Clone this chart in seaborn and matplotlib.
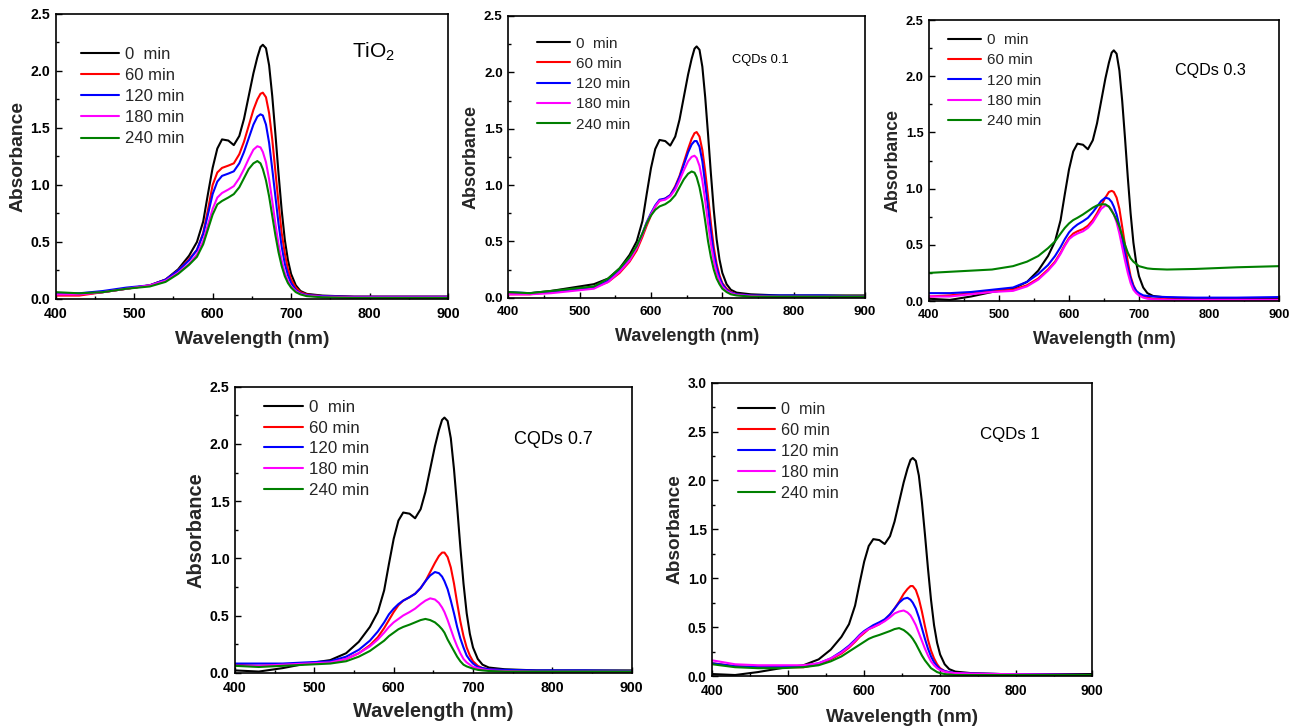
import matplotlib
matplotlib.use("Agg")
import matplotlib.pyplot as plt
import pandas as pd
import seaborn as sns
from matplotlib.lines import Line2D

# ---------------- data ----------------
WAVELENGTH = [400, 430, 460, 490, 520, 540, 556, 570, 580, 588, 594, 600, 606, 612, 620,
              627, 634, 640, 646, 652, 657, 661, 664, 668, 672, 676, 680, 684, 688, 692,
              696, 700, 706, 712, 720, 740, 780, 840, 900]
TIMES = ["0  min", "60 min", "120 min", "180 min", "240 min"]
COLORS = ["#000000", "#ff0000", "#0000ff", "#ff00ff", "#008000"]

# 0 min spectrum (same dye solution in all panels)
ABS_0MIN_A = [0.04, 0.04, 0.06, 0.09, 0.12, 0.17, 0.26, 0.38, 0.50, 0.68, 0.92, 1.15, 1.32, 1.40, 1.39,
              1.35, 1.43, 1.58, 1.78, 1.98, 2.12, 2.21, 2.23, 2.20, 2.05, 1.78, 1.45, 1.10, 0.78, 0.52,
              0.34, 0.22, 0.12, 0.07, 0.045, 0.03, 0.02, 0.02, 0.02]
ABS_0MIN_B = [0.02, 0.01, 0.04, 0.08, 0.11, 0.17, 0.27, 0.40, 0.53, 0.72, 0.95, 1.17, 1.33, 1.40, 1.39,
              1.35, 1.43, 1.58, 1.78, 1.98, 2.12, 2.21, 2.23, 2.20, 2.05, 1.78, 1.45, 1.10, 0.78, 0.52,
              0.34, 0.22, 0.12, 0.07, 0.045, 0.03, 0.02, 0.02, 0.02]

# TiO2
TIO2_60 = [0.03, 0.03, 0.06, 0.09, 0.12, 0.17, 0.25, 0.35, 0.43, 0.58, 0.78, 1.00, 1.11, 1.15, 1.17,
           1.19, 1.27, 1.38, 1.52, 1.66, 1.75, 1.80, 1.81, 1.77, 1.63, 1.40, 1.12, 0.84, 0.58, 0.40,
           0.26, 0.17, 0.10, 0.06, 0.04, 0.025, 0.02, 0.02, 0.02]
TIO2_120 = [0.05, 0.05, 0.07, 0.10, 0.12, 0.17, 0.25, 0.34, 0.43, 0.57, 0.74, 0.92, 1.03, 1.08, 1.10,
            1.12, 1.19, 1.29, 1.41, 1.53, 1.60, 1.62, 1.61, 1.53, 1.37, 1.14, 0.90, 0.66, 0.46, 0.31,
            0.21, 0.14, 0.08, 0.05, 0.035, 0.025, 0.02, 0.02, 0.02]
TIO2_180 = [0.04, 0.04, 0.06, 0.09, 0.12, 0.16, 0.23, 0.31, 0.39, 0.51, 0.65, 0.79, 0.89, 0.93, 0.96,
            0.99, 1.06, 1.14, 1.23, 1.31, 1.34, 1.33, 1.29, 1.20, 1.05, 0.86, 0.66, 0.48, 0.34, 0.23,
            0.16, 0.11, 0.07, 0.045, 0.03, 0.02, 0.015, 0.015, 0.015]
TIO2_240 = [0.06, 0.05, 0.06, 0.09, 0.11, 0.15, 0.22, 0.30, 0.37, 0.48, 0.61, 0.74, 0.83, 0.86, 0.89,
            0.92, 0.98, 1.06, 1.14, 1.19, 1.21, 1.19, 1.14, 1.04, 0.90, 0.73, 0.56, 0.41, 0.29, 0.20,
            0.14, 0.10, 0.06, 0.04, 0.025, 0.015, 0.01, 0.01, 0.01]

# CQDs 0.1
C01_60 = [0.03, 0.03, 0.05, 0.07, 0.09, 0.14, 0.22, 0.32, 0.42, 0.54, 0.64, 0.73, 0.81, 0.86, 0.88,
          0.91, 0.99, 1.08, 1.20, 1.32, 1.41, 1.46, 1.47, 1.43, 1.31, 1.12, 0.90, 0.66, 0.45, 0.30,
          0.20, 0.13, 0.08, 0.05, 0.03, 0.02, 0.01, 0.01, 0.01]
C01_120 = [0.05, 0.04, 0.05, 0.07, 0.09, 0.15, 0.24, 0.34, 0.45, 0.57, 0.67, 0.75, 0.82, 0.87, 0.88,
           0.91, 0.98, 1.07, 1.18, 1.29, 1.36, 1.39, 1.39, 1.34, 1.21, 1.01, 0.80, 0.58, 0.40, 0.27,
           0.18, 0.12, 0.07, 0.045, 0.03, 0.02, 0.02, 0.02, 0.01]
C01_180 = [0.03, 0.03, 0.04, 0.06, 0.08, 0.14, 0.23, 0.33, 0.44, 0.56, 0.66, 0.74, 0.81, 0.86, 0.87,
           0.90, 0.96, 1.04, 1.13, 1.21, 1.25, 1.26, 1.24, 1.17, 1.04, 0.86, 0.66, 0.48, 0.33, 0.22,
           0.15, 0.10, 0.06, 0.04, 0.025, 0.015, 0.01, 0.01, 0.01]
C01_240 = [0.05, 0.04, 0.06, 0.08, 0.10, 0.17, 0.26, 0.36, 0.46, 0.57, 0.66, 0.73, 0.78, 0.81, 0.83,
           0.86, 0.91, 0.98, 1.05, 1.10, 1.12, 1.11, 1.07, 0.98, 0.85, 0.68, 0.50, 0.36, 0.25, 0.17,
           0.12, 0.08, 0.05, 0.03, 0.02, 0.01, 0.01, 0.01, 0.01]

# CQDs 0.3
C03_60 = [0.04, 0.05, 0.07, 0.09, 0.10, 0.14, 0.20, 0.28, 0.35, 0.43, 0.50, 0.56, 0.60, 0.62, 0.64,
          0.67, 0.72, 0.78, 0.85, 0.92, 0.97, 0.98, 0.97, 0.92, 0.82, 0.66, 0.50, 0.35, 0.22, 0.14,
          0.09, 0.06, 0.04, 0.03, 0.02, 0.015, 0.01, 0.01, 0.01]
C03_120 = [0.07, 0.07, 0.08, 0.10, 0.12, 0.17, 0.24, 0.32, 0.40, 0.48, 0.55, 0.61, 0.65, 0.68, 0.71,
           0.74, 0.79, 0.84, 0.89, 0.92, 0.91, 0.88, 0.84, 0.77, 0.67, 0.55, 0.42, 0.30, 0.20, 0.13,
           0.09, 0.07, 0.05, 0.045, 0.04, 0.035, 0.03, 0.03, 0.035]
C03_180 = [0.04, 0.04, 0.06, 0.08, 0.09, 0.13, 0.19, 0.27, 0.34, 0.42, 0.49, 0.55, 0.58, 0.60, 0.62,
           0.65, 0.70, 0.76, 0.82, 0.85, 0.84, 0.81, 0.77, 0.70, 0.60, 0.48, 0.36, 0.25, 0.16, 0.10,
           0.07, 0.05, 0.03, 0.02, 0.015, 0.01, 0.01, 0.01, 0.01]
C03_240 = [0.25, 0.26, 0.27, 0.28, 0.31, 0.35, 0.40, 0.47, 0.53, 0.60, 0.65, 0.69, 0.72, 0.74, 0.77,
           0.80, 0.83, 0.85, 0.86, 0.86, 0.84, 0.80, 0.77, 0.72, 0.66, 0.58, 0.50, 0.43, 0.38, 0.35,
           0.33, 0.31, 0.30, 0.29, 0.285, 0.28, 0.285, 0.30, 0.31]

# CQDs 0.7
C07_60 = [0.07, 0.06, 0.07, 0.08, 0.09, 0.12, 0.17, 0.24, 0.31, 0.39, 0.46, 0.53, 0.59, 0.63, 0.66,
          0.69, 0.74, 0.80, 0.88, 0.96, 1.02, 1.05, 1.05, 1.01, 0.92, 0.78, 0.61, 0.45, 0.32, 0.22,
          0.15, 0.10, 0.06, 0.04, 0.03, 0.02, 0.015, 0.01, 0.01]
C07_120 = [0.08, 0.08, 0.08, 0.09, 0.10, 0.14, 0.20, 0.28, 0.36, 0.44, 0.51, 0.56, 0.60, 0.63, 0.66,
           0.69, 0.74, 0.80, 0.85, 0.88, 0.87, 0.84, 0.80, 0.73, 0.63, 0.52, 0.40, 0.30, 0.22, 0.15,
           0.11, 0.08, 0.05, 0.04, 0.03, 0.025, 0.02, 0.02, 0.015]
C07_180 = [0.06, 0.06, 0.07, 0.08, 0.09, 0.12, 0.17, 0.23, 0.29, 0.35, 0.40, 0.44, 0.47, 0.50, 0.53,
           0.56, 0.60, 0.63, 0.65, 0.64, 0.61, 0.57, 0.53, 0.46, 0.38, 0.30, 0.23, 0.17, 0.12, 0.09,
           0.07, 0.05, 0.04, 0.03, 0.02, 0.015, 0.01, 0.01, 0.01]
C07_240 = [0.06, 0.05, 0.06, 0.07, 0.08, 0.10, 0.14, 0.19, 0.24, 0.28, 0.32, 0.35, 0.38, 0.40, 0.42,
           0.44, 0.46, 0.47, 0.46, 0.44, 0.41, 0.38, 0.35, 0.29, 0.24, 0.19, 0.14, 0.10, 0.07, 0.055,
           0.045, 0.035, 0.025, 0.02, 0.015, 0.01, 0.01, 0.01, 0.01]

# CQDs 1
C1_60 = [0.13, 0.10, 0.09, 0.09, 0.09, 0.12, 0.17, 0.23, 0.29, 0.35, 0.40, 0.44, 0.48, 0.50, 0.53,
         0.57, 0.63, 0.69, 0.76, 0.84, 0.89, 0.92, 0.92, 0.88, 0.79, 0.66, 0.51, 0.37, 0.26, 0.18,
         0.12, 0.08, 0.05, 0.035, 0.025, 0.02, 0.015, 0.01, 0.01]
C1_120 = [0.13, 0.10, 0.09, 0.09, 0.10, 0.13, 0.18, 0.25, 0.31, 0.37, 0.42, 0.46, 0.49, 0.52, 0.55,
          0.58, 0.63, 0.69, 0.75, 0.79, 0.80, 0.78, 0.75, 0.69, 0.60, 0.49, 0.38, 0.28, 0.20, 0.14,
          0.10, 0.07, 0.05, 0.04, 0.03, 0.025, 0.02, 0.015, 0.01]
C1_180 = [0.16, 0.12, 0.11, 0.11, 0.11, 0.13, 0.18, 0.24, 0.30, 0.36, 0.41, 0.45, 0.48, 0.50, 0.53,
          0.56, 0.60, 0.64, 0.66, 0.67, 0.65, 0.62, 0.58, 0.52, 0.44, 0.36, 0.28, 0.21, 0.15, 0.11,
          0.08, 0.06, 0.045, 0.035, 0.03, 0.025, 0.02, 0.015, 0.01]
C1_240 = [0.12, 0.09, 0.08, 0.08, 0.09, 0.11, 0.15, 0.20, 0.25, 0.29, 0.32, 0.35, 0.38, 0.40, 0.42,
          0.44, 0.46, 0.48, 0.49, 0.47, 0.44, 0.41, 0.38, 0.33, 0.27, 0.21, 0.16, 0.12, 0.08, 0.06,
          0.04, 0.03, 0.02, 0.015, 0.01, 0.01, 0.01, 0.01, 0.01]

X_TICKS = [400, 500, 600, 700, 800, 900]
Y_TICKS_25 = [0.0, 0.5, 1.0, 1.5, 2.0, 2.5]
Y_TICKS_30 = [0.0, 0.5, 1.0, 1.5, 2.0, 2.5, 3.0]

PANELS = [
    dict(series=[ABS_0MIN_A, TIO2_60, TIO2_120, TIO2_180, TIO2_240], label="TiO$_2$",
         yticks=Y_TICKS_25, box=(55.7, 14, 448, 299), lab_xy=(778, 2.17),
         fs_tick=10.2, fs_lab=13.9, fs_leg=12, fs_txt=15, leg_xy=(0.064, 0.885), ls=0.37, hl=2.3,
         xpad=9),
    dict(series=[ABS_0MIN_A, C01_60, C01_120, C01_180, C01_240], label="CQDs 0.1",
         yticks=Y_TICKS_25, box=(508.3, 16, 865, 297.7), lab_xy=(713, 2.11),
         fs_tick=9.6, fs_lab=13.0, fs_leg=11, fs_txt=9.3, leg_xy=(0.080, 0.927), ls=0.41, hl=2.2,
         xpad=9),
    dict(series=[ABS_0MIN_B, C03_60, C03_120, C03_180, C03_240], label="CQDs 0.3",
         yticks=Y_TICKS_25, box=(929, 20, 1279, 301), lab_xy=(751, 2.05),
         fs_tick=9.2, fs_lab=12.8, fs_leg=11, fs_txt=11.6, leg_xy=(0.053, 0.953), ls=0.41, hl=2.2,
         xpad=9),
    dict(series=[ABS_0MIN_B, C07_60, C07_120, C07_180, C07_240], label="CQDs 0.7",
         yticks=Y_TICKS_25, box=(235, 386.7, 631.7, 672.7), lab_xy=(752, 2.04),
         fs_tick=10.2, fs_lab=14.4, fs_leg=12.2, fs_txt=13, leg_xy=(0.073, 0.953), ls=0.33, hl=2.3,
         xpad=7),
    dict(series=[ABS_0MIN_B, C1_60, C1_120, C1_180, C1_240], label="CQDs 1",
         yticks=Y_TICKS_30, box=(712.3, 382.7, 1092, 676), lab_xy=(752.6, 2.47),
         fs_tick=9.8, fs_lab=13.7, fs_leg=11.6, fs_txt=12.2, leg_xy=(0.068, 0.934), ls=0.37, hl=2.3,
         xpad=10),
]

# ---------------- style ----------------
sns.set_theme(style="white")
plt.rcParams["font.family"] = ["Liberation Sans", "DejaVu Sans"]
plt.rcParams["mathtext.fontset"] = "custom"
plt.rcParams["mathtext.rm"] = "Liberation Sans"
plt.rcParams["mathtext.it"] = "Liberation Sans:italic"
plt.rcParams["mathtext.bf"] = "Liberation Sans:bold"

W, H = 1298, 727
fig = plt.figure(figsize=(W / 100, H / 100), dpi=100)
fig.patch.set_facecolor("white")

for p in PANELS:
    l, t, r, b = p["box"]
    ax = fig.add_axes([l / W, 1 - b / H, (r - l) / W, (b - t) / H])
    rows = []
    for name, vals in zip(TIMES, p["series"]):
        for wl, a in zip(WAVELENGTH, vals):
            rows.append({"wavelength": wl, "absorbance": a, "time": name})
    df = pd.DataFrame(rows)
    sns.lineplot(data=df, x="wavelength", y="absorbance", hue="time", hue_order=TIMES,
                 palette=COLORS, estimator=None, sort=False, lw=1.5, legend=False, ax=ax)
    ax.set_xlim(400, 900)
    ax.set_ylim(0, p["yticks"][-1])
    ax.set_xticks(X_TICKS)
    ax.set_xticklabels([str(v) for v in X_TICKS], fontweight="bold", fontsize=p["fs_tick"])
    ax.set_yticks(p["yticks"])
    ax.set_yticklabels([f"{v:.1f}" for v in p["yticks"]], fontweight="bold", fontsize=p["fs_tick"])
    ax.set_xticks([v + 50 for v in X_TICKS[:-1]], minor=True)
    ax.set_yticks([v + 0.25 for v in p["yticks"][:-1]], minor=True)
    ax.tick_params(which="both", direction="in", top=False, right=False, left=True, bottom=True,
                   width=1, colors="black")
    ax.tick_params(axis="x", which="major", length=4, pad=6)
    ax.tick_params(axis="y", which="major", length=4, pad=4)
    ax.tick_params(which="minor", length=2.5)
    for s in ax.spines.values():
        s.set_color("black")
        s.set_linewidth(1.2)
    ax.set_xlabel("Wavelength (nm)", fontweight="bold", fontsize=p["fs_lab"], labelpad=p["xpad"] - 2)
    ax.set_ylabel("Absorbance", fontweight="bold", fontsize=p["fs_lab"], labelpad=3)
    ax.text(p["lab_xy"][0], p["lab_xy"][1], p["label"], fontsize=p["fs_txt"],
            ha="left", va="center", color="black")
    handles = [Line2D([0], [0], color=c, lw=1.5) for c in COLORS]
    ax.legend(handles, TIMES, loc="upper left", bbox_to_anchor=p["leg_xy"], frameon=False,
              fontsize=p["fs_leg"], handlelength=p["hl"], handletextpad=0.35,
              labelspacing=p["ls"], borderpad=0, borderaxespad=0)

fig.savefig("out.png", dpi=100, facecolor="white")
